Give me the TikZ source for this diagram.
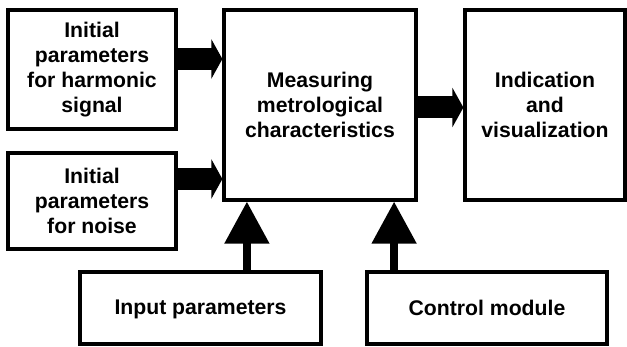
\documentclass[tikz,border=0pt]{standalone}
\usepackage{fontspec}
\setmainfont{Liberation Sans}
\usetikzlibrary{arrows.meta}
\tikzset{
  block/.style={draw, line width=3.2pt, rectangle, align=center,
    font=\fontsize{21.2}{25}\selectfont\bfseries, inner sep=0pt},
  fatarrow/.style={line width=22pt, -{Triangle[width=39pt,length=11pt]}},
  uparrow/.style={line width=8pt, -{Triangle[width=43pt,length=42pt]}}
}
\begin{document}
\begin{tikzpicture}[x=1pt,y=1pt]
                \useasboundingbox (0,0) rectangle (627,346);

                % Input blocks on the left
                \node[block, minimum width=168pt, minimum height=119pt] (harm) at (92,276.5)
                  {Initial\\parameters\\for harmonic\\signal};
                \node[block, minimum width=168pt, minimum height=96pt] (noise) at (92,145)
                  {Initial\\parameters\\for noise};

                % Main and output blocks
                \node[block, minimum width=192pt, minimum height=190pt] (meas) at (320,241)
                  {Measuring\\metrological\\characteristics};
                \node[block, minimum width=160pt, minimum height=190pt] (ind) at (545,241)
                  {Indication\\and\\visualization};

                % Bottom blocks
                \node[block, minimum width=241pt, minimum height=72pt, text depth=1pt] (inp) at (200.5,38)
                  {Input parameters};
                \node[block, minimum width=240pt, minimum height=72pt, text depth=1pt] (ctrl) at (487,38)
                  {Control module};

                % Horizontal arrows
                \draw[fatarrow] ([yshift=10.5pt]harm.east) -- ([yshift=10.5pt]harm.east -| meas.west);
                \draw[fatarrow] ([yshift=22pt]noise.east) -- ([yshift=22pt]noise.east -| meas.west);
                \draw[fatarrow] ([yshift=-2.5pt]meas.east) -- ([yshift=-2.5pt]meas.east -| ind.west);

                % Vertical arrows
                \draw[uparrow] ([xshift=24.5pt]meas.south west |- inp.north) -- ([xshift=24.5pt]meas.south west);
                \draw[uparrow] ([xshift=-23.5pt]meas.south east |- ctrl.north) -- ([xshift=-23.5pt]meas.south east);
            \end{tikzpicture}
\end{document}
